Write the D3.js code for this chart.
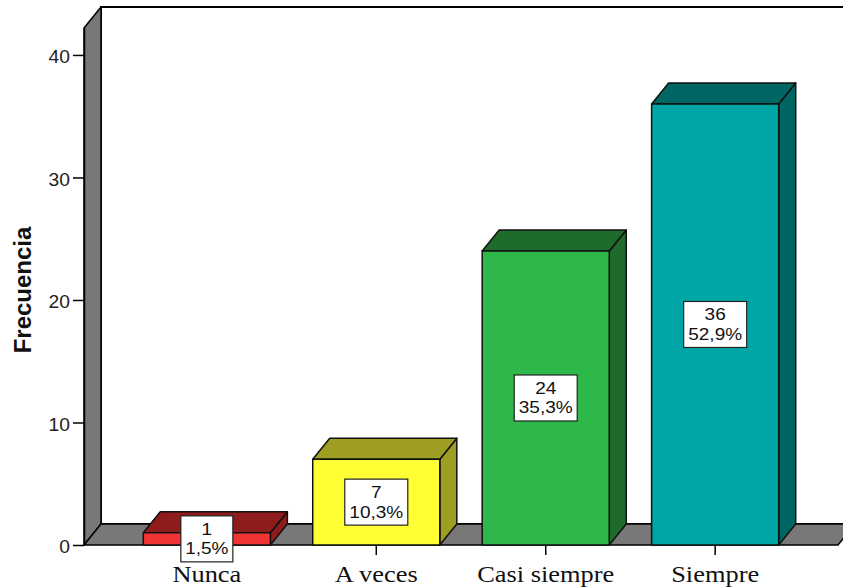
<!DOCTYPE html>
<html>
<head>
<meta charset="utf-8">
<script src="https://cdn.jsdelivr.net/npm/d3@7"></script>
<style>
  html, body { margin: 0; padding: 0; background: #fff; }
  svg { display: block; }
</style>
</head>
<body>
<svg id="chart" width="843" height="588"></svg>
<script>
// Frequency of answers per category
const categories = ["Nunca", "A veces", "Casi siempre", "Siempre"];
const counts = [1, 7, 24, 36];
const percents = [1.5, 10.3, 35.3, 52.9];
const yTicks = [0, 10, 20, 30, 40];

// Face colours: front face and the shaded top/side faces
const frontColors = ["#f03434", "#ffff33", "#2eb84a", "#00a6a6"];
const shadeColors = ["#8e1c1c", "#9e9e22", "#1e6b2c", "#006663"];

(function draw() {
  const W = 843;
  const plotLeft = 84, plotRight = 838, plotBase = 545, plotTop = 28;
  const dx = 17, dy = -21;          // depth offset of the 3D box
  const yMax = 42.2;

  const svg = d3.select("#chart");

  const x = d3.scaleBand()
    .domain(categories)
    .range([plotLeft, plotRight])
    .paddingInner(0.25)
    .paddingOuter(0.35);

  const y = d3.scaleLinear().domain([0, yMax]).range([plotBase, plotTop]);

  const sans = "'Liberation Sans', Arial, sans-serif";
  const serif = "'Liberation Serif', 'Times New Roman', serif";
  const stretch = 1.1;

  // widen text horizontally so glyphs keep their height
  function widen(sel, k) {
    sel.each(function () {
      const len = this.getComputedTextLength();
      d3.select(this).attr("textLength", len * k).attr("lengthAdjust", "spacingAndGlyphs");
    });
  }

  const line = d3.line();

  // back wall
  svg.append("rect")
    .attr("x", plotLeft + dx).attr("y", plotTop + dy)
    .attr("width", W - (plotLeft + dx) + 5).attr("height", plotBase - plotTop)
    .attr("fill", "#fff").attr("stroke", "#000").attr("stroke-width", 2);

  // left wall
  svg.append("path")
    .attr("d", line([[plotLeft, plotTop], [plotLeft + dx, plotTop + dy], [plotLeft + dx, plotBase + dy], [plotLeft, plotBase]]) + "Z")
    .attr("fill", "#787878").attr("stroke", "#000").attr("stroke-width", 1.5)
    .attr("stroke-linejoin", "round");

  // floor
  svg.append("path")
    .attr("d", line([[plotLeft, plotBase], [plotLeft + dx, plotBase + dy], [plotRight + dx, plotBase + dy], [plotRight, plotBase]]) + "Z")
    .attr("fill", "#787878").attr("stroke", "#000").attr("stroke-width", 1.5)
    .attr("stroke-linejoin", "round");

  // y axis
  const yAxis = svg.append("g")
    .attr("transform", `translate(${plotLeft},0)`)
    .call(d3.axisLeft(y).tickValues(yTicks).tickSize(11).tickSizeOuter(0).tickPadding(3));
  yAxis.select(".domain").attr("stroke", "#000").attr("stroke-width", 1.5);
  yAxis.selectAll(".tick line").attr("stroke", "#000").attr("stroke-width", 1.5);
  yAxis.selectAll(".tick text")
    .attr("font-family", sans).attr("font-size", 17.5).attr("fill", "#222")
    .attr("dy", "0.45em");
  widen(yAxis.selectAll(".tick text"), stretch);

  // x axis
  const xAxis = svg.append("g")
    .attr("transform", `translate(0,${plotBase})`)
    .call(d3.axisBottom(x).tickSize(10).tickSizeOuter(0).tickPadding(10));
  xAxis.select(".domain").remove();
  xAxis.selectAll(".tick line").attr("stroke", "#000").attr("stroke-width", 1.5);
  xAxis.selectAll(".tick text")
    .attr("font-family", serif).attr("font-size", 24).attr("fill", "#111")
    .attr("y", 37).attr("dy", 0);
  widen(xAxis.selectAll(".tick text"), stretch);

  // bars
  const data = categories.map((c, i) => ({ c, v: counts[i], p: percents[i], i }));
  const bars = svg.append("g").selectAll("g").data(data).join("g");

  bars.each(function (d) {
    const g = d3.select(this);
    const x0 = x(d.c), w = x.bandwidth(), yv = y(d.v), y0 = y(0);
    g.append("path")
      .attr("d", line([[x0 + w, yv], [x0 + w + dx, yv + dy], [x0 + w + dx, y0 + dy], [x0 + w, y0]]) + "Z")
      .attr("fill", shadeColors[d.i]);
    g.append("path")
      .attr("d", line([[x0, yv], [x0 + dx, yv + dy], [x0 + w + dx, yv + dy], [x0 + w, yv]]) + "Z")
      .attr("fill", shadeColors[d.i]);
    g.append("rect")
      .attr("x", x0).attr("y", yv).attr("width", w).attr("height", y0 - yv)
      .attr("fill", frontColors[d.i]);
    g.selectAll("path, rect")
      .attr("stroke", "#111").attr("stroke-width", 1.5).attr("stroke-linejoin", "round");
  });

  // value labels: count over percentage in a white box
  const fmt = p => d3.format(".1f")(p).replace(".", ",") + "%";
  const labels = svg.append("g").selectAll("g").data(data).join("g")
    .attr("transform", d => `translate(${x(d.c) + x.bandwidth() / 2},${(y(d.v) + y(0)) / 2})`);

  labels.each(function (d) {
    const g = d3.select(this);
    const box = g.append("rect");
    const t = g.append("text")
      .attr("text-anchor", "middle").attr("font-family", sans)
      .attr("font-size", 16.8).attr("fill", "#111");
    const s1 = t.append("tspan").attr("x", 0).attr("y", -4.2).text(d.v);
    const s2 = t.append("tspan").attr("x", 0).attr("y", 15.4).text(fmt(d.p));
    widen(t.selectAll("tspan"), stretch * 1.03);
    const tw = Math.max(s1.node().getComputedTextLength(), s2.node().getComputedTextLength());
    const bw = Math.round(tw + 9);
    box.attr("x", -bw / 2).attr("y", -23).attr("width", bw).attr("height", 46)
      .attr("fill", "#fff").attr("stroke", "#222").attr("stroke-width", 1.2);
  });

  // y axis title
  svg.append("text")
    .attr("transform", "translate(31,290) rotate(-90)")
    .attr("text-anchor", "middle")
    .attr("font-family", sans).attr("font-weight", "bold")
    .attr("font-size", 24).attr("fill", "#111")
    .text("Frecuencia");
})();
</script>
</body>
</html>
